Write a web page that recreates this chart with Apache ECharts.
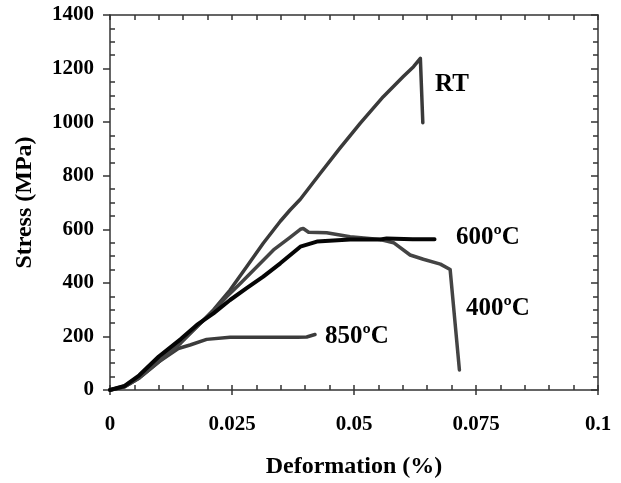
<!DOCTYPE html>
<html>
<head>
<meta charset="utf-8">
<script src="https://cdn.jsdelivr.net/npm/echarts@6/dist/echarts.min.js"></script>
<style>html,body{margin:0;padding:0;background:#fff}#c{width:621px;height:483px}</style>
</head>
<body>
<div id="c"></div>
<script>
// Data: [deformation (%), stress (MPa)]
var rtData = [[0,0],[0.003,15],[0.006,50],[0.010,110],[0.0145,180],[0.0178,236],[0.0212,299],[0.0246,373],[0.028,460],[0.0314,548],[0.0349,630],[0.0369,672],[0.039,712],[0.0431,809],[0.047,900],[0.0513,996],[0.056,1095],[0.0601,1170],[0.0622,1207],[0.0636,1238],[0.0641,998]];
var t400Data = [[0,0],[0.003,12],[0.006,45],[0.010,105],[0.0145,175],[0.0178,236],[0.0212,295],[0.0239,348],[0.0267,398],[0.0301,460],[0.0335,523],[0.0369,570],[0.0390,600],[0.0396,603],[0.0407,589],[0.0444,587],[0.0492,572],[0.0554,562],[0.0581,550],[0.0615,504],[0.0642,488],[0.0677,470],[0.0697,450],[0.0716,75]];
var t600Data = [[0,0],[0.003,15],[0.006,55],[0.010,125],[0.0145,190],[0.0178,243],[0.0212,286],[0.0246,336],[0.028,380],[0.0314,423],[0.0349,473],[0.039,535],[0.0424,554],[0.0492,562],[0.0554,562],[0.0567,566],[0.062,563],[0.0665,563]];
var t850Data = [[0,0],[0.003,12],[0.006,45],[0.010,105],[0.014,155],[0.0164,168],[0.0198,189],[0.0246,197],[0.0384,197],[0.0403,198],[0.042,207]];
var seriesNames = ['RT','400ºC','600ºC','850ºC'];
var xTickLabels = [0, 0.025, 0.05, 0.075, 0.1];
var yTickLabels = [0, 200, 400, 600, 800, 1000, 1200, 1400];
var xTitle = 'Deformation (%)';
var yTitle = 'Stress (MPa)';

var FONT = '"Liberation Serif", "Times New Roman", serif';
var AX = '#333';
var TXT = '#000';
var chart = echarts.init(document.getElementById('c'));
var yMinor = [];
for (var v = 0; v <= 1400; v += 50) { if (v % 200 !== 0) yMinor.push(v); }
function ts() { return { color: AX, width: 1.5 }; }

function line(name, data, color, w, z) {
  return { name: name, type: 'line', data: data, showSymbol: false, symbol: 'none', z: z,
    xAxisIndex: 0, yAxisIndex: 0,
    lineStyle: { color: color, width: w, join: 'round', cap: 'round' }, itemStyle: { color: color } };
}
function grid() {
  return { left: 110, right: 23, top: 15, bottom: 93, show: false, containLabel: false, outerBoundsMode: 'none' };
}
function xAx(gi, pos, extra) {
  return Object.assign({ gridIndex: gi, type: 'value', min: 0, max: 0.1, interval: 0.025, position: pos,
    splitLine: { show: false }, axisLabel: { show: false } }, extra);
}
function yAx(gi, pos, extra) {
  return Object.assign({ gridIndex: gi, type: 'value', min: 0, max: 1400, interval: 200, position: pos,
    splitLine: { show: false }, axisLabel: { show: false } }, extra);
}

chart.setOption({
  animation: false,
  backgroundColor: '#fff',
  grid: [grid(), grid(), grid()],
  xAxis: [
    xAx(0, 'bottom', {
      axisLine: { show: true, onZero: false, lineStyle: ts() },
      axisTick: { show: true, inside: true, length: 5, lineStyle: ts() },
      minorTick: { show: true, splitNumber: 5, length: 5, lineStyle: ts() },
      axisLabel: { show: true, margin: 24, fontFamily: FONT, fontWeight: 'bold', fontSize: 21, color: TXT,
        customValues: xTickLabels, formatter: function (v) { return String(+v.toFixed(3)); } },
      name: xTitle, nameLocation: 'middle', nameGap: 65,
      nameTextStyle: { fontFamily: FONT, fontWeight: 'bold', fontSize: 24, color: TXT } }),
    xAx(1, 'top', {
      axisLine: { show: true, onZero: false, lineStyle: ts() },
      axisTick: { show: true, inside: true, length: 5, lineStyle: ts() },
      minorTick: { show: true, splitNumber: 5, length: 5, lineStyle: ts() } }),
    xAx(2, 'bottom', {
      axisLine: { show: false, onZero: false },
      axisTick: { show: true, inside: false, length: 5, lineStyle: ts() } })
  ],
  yAxis: [
    yAx(0, 'left', {
      axisLine: { show: true, onZero: false, lineStyle: ts() },
      axisTick: { show: true, inside: false, length: 7, lineStyle: ts() },
      axisLabel: { show: true, margin: 16, fontFamily: FONT, fontWeight: 'bold', fontSize: 21, color: TXT,
        customValues: yTickLabels, formatter: function (v) { return String(v); } },
      name: yTitle, nameLocation: 'middle', nameGap: 73, nameRotate: 90,
      nameTextStyle: { fontFamily: FONT, fontWeight: 'bold', fontSize: 24, color: TXT } }),
    yAx(1, 'right', {
      axisLine: { show: true, onZero: false, lineStyle: ts() },
      axisTick: { show: true, inside: true, length: 7, lineStyle: ts() },
      minorTick: { show: true, splitNumber: 4, length: 5, lineStyle: ts() } }),
    yAx(2, 'left', {
      interval: 50,
      axisLine: { show: false, onZero: false },
      axisTick: { show: true, inside: true, length: 5, customValues: yMinor, lineStyle: ts() } })
  ],
  series: [
    line(seriesNames[0], rtData, '#3a3a3a', 3.5, 2),
    line(seriesNames[1], t400Data, '#444444', 3.5, 3),
    line(seriesNames[3], t850Data, '#3c3c3c', 3.5, 2),
    line(seriesNames[2], t600Data, '#050505', 4, 4),
    { type: 'line', xAxisIndex: 1, yAxisIndex: 1, data: [], silent: true, showSymbol: false },
    { type: 'line', xAxisIndex: 2, yAxisIndex: 2, data: [], silent: true, showSymbol: false }
  ],
  graphic: [
    { type: 'text', left: 435, top: 72, style: { text: seriesNames[0], font: 'bold 25px ' + FONT, fill: TXT } },
    { type: 'text', left: 456, top: 225, style: { text: seriesNames[2], font: 'bold 25px ' + FONT, fill: TXT } },
    { type: 'text', left: 466, top: 296, style: { text: seriesNames[1], font: 'bold 25px ' + FONT, fill: TXT } },
    { type: 'text', left: 325, top: 324, style: { text: seriesNames[3], font: 'bold 25px ' + FONT, fill: TXT } }
  ]
});
</script>
</body>
</html>
